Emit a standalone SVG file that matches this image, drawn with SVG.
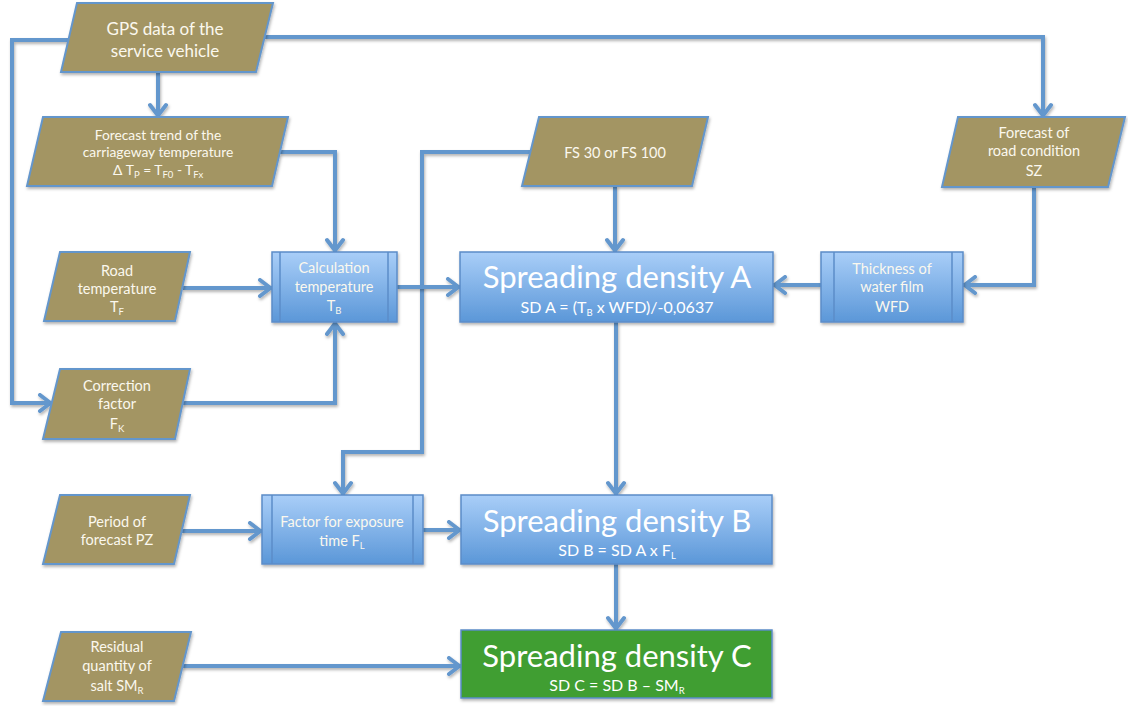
<svg xmlns="http://www.w3.org/2000/svg" width="1128" height="706" viewBox="0 0 1128 706">
<defs>
<linearGradient id="bg" x1="0" y1="0" x2="0" y2="1">
<stop offset="0" stop-color="#a9cef8"/>
<stop offset="1" stop-color="#5b97d8"/>
</linearGradient>
<filter id="sh" filterUnits="userSpaceOnUse" x="-20" y="-20" width="1170" height="750">
<feDropShadow dx="1" dy="2" stdDeviation="1.5" flood-color="#000" flood-opacity="0.3"/>
</filter>
<marker id="ah" markerWidth="20" markerHeight="20" viewBox="-16 -10 20 20" refX="0" refY="0" orient="auto" markerUnits="userSpaceOnUse">
<path d="M-12,-8 L-1.5,0 L-12,8" fill="none" stroke="#6497cd" stroke-width="4" stroke-linecap="round" stroke-linejoin="round"/>
</marker>
</defs>
<style>
.io{fill:#a39563;stroke:#6496cc;stroke-width:2;filter:url(#sh)}
.pr{fill:url(#bg);stroke:#5b8cc8;stroke-width:1.5;filter:url(#sh)}
.in{stroke:#5b8cc8;stroke-width:1.5;fill:none}
.gr{fill:#3f9e30;stroke:#5b8cc8;stroke-width:1.5;filter:url(#sh)}
.c{fill:none;stroke:#6497cd;stroke-width:4;filter:url(#sh)}
.a{marker-end:url(#ah)}
text{font-family:Lato,"Liberation Sans",sans-serif;fill:#fbf8ee;text-anchor:middle}
.t14{font-size:14.5px}
.t13{font-size:13.8px}
.t17{font-size:17px}
.big{font-size:31px;fill:#fff}
.sm{font-size:16px;fill:#fff}
.sub{font-size:9.5px}
</style>
<g id="connectors">
<path class="c a" d="M68,40 H12 V403 H52"/>
<path class="c a" d="M265,37 H1043 V117"/>
<path class="c a" d="M158,72 V117"/>
<path class="c a" d="M280,152 H335 V252"/>
<path class="c a" d="M183,288 H272"/>
<path class="c a" d="M182,403 H335 V322"/>
<path class="c a" d="M530,152 H422 V452 H343 V495"/>
<path class="c a" d="M615,186 V252"/>
<path class="c a" d="M397,287 H460"/>
<path class="c a" d="M1034,187 V285 H963"/>
<path class="c a" d="M821,285 H773"/>
<path class="c a" d="M616,322 V495"/>
<path class="c a" d="M182,531 H262"/>
<path class="c a" d="M423,530 H461"/>
<path class="c a" d="M616,564 V630"/>
<path class="c a" d="M182,666 H461"/>
</g>
<g id="gps">
<polygon class="io" points="77,3 273,3 256,72 61,72"/>
<text class="t17" x="165" y="35">GPS data of the</text>
<text class="t17" x="165" y="57">service vehicle</text>
</g>
<g id="forecast-trend">
<polygon class="io" points="43,117 288,117 272,186 27,186"/>
<text class="t13" x="158" y="140">Forecast trend of the</text>
<text class="t13" x="158" y="157">carriageway temperature</text>
<text class="t13" x="158" y="175">Δ T<tspan class="sub" dy="3">P</tspan><tspan dy="-3"> = T</tspan><tspan class="sub" dy="3">F0</tspan><tspan dy="-3"> - T</tspan><tspan class="sub" dy="3">Fx</tspan></text>
</g>
<g id="fs">
<polygon class="io" points="539,117 708,117 692,186 522,186"/>
<text class="t14" x="615" y="158">FS 30 or FS 100</text>
</g>
<g id="forecast-road">
<polygon class="io" points="958,117 1125,117 1108,187 942,187"/>
<text class="t14" x="1034" y="138">Forecast of</text>
<text class="t14" x="1034" y="156">road condition</text>
<text class="t14" x="1034" y="176">SZ</text>
</g>
<g id="road-temp">
<polygon class="io" points="60,252 190,252 175,321 44,321"/>
<text class="t14" x="117" y="276">Road</text>
<text class="t14" x="117" y="294">temperature</text>
<text class="t14" x="117" y="312">T<tspan class="sub" dy="3">F</tspan></text>
</g>
<g id="correction">
<polygon class="io" points="60,369 190,369 175,439 43,439"/>
<text class="t14" x="117" y="391">Correction</text>
<text class="t14" x="117" y="409">factor</text>
<text class="t14" x="117" y="429">F<tspan class="sub" dy="3">K</tspan></text>
</g>
<g id="period">
<polygon class="io" points="60,495 190,495 174,564 43,564"/>
<text class="t14" x="117" y="527">Period of</text>
<text class="t14" x="117" y="545">forecast PZ</text>
</g>
<g id="residual">
<polygon class="io" points="61,632 191,632 174,701 43,701"/>
<text class="t14" x="117" y="652">Residual</text>
<text class="t14" x="117" y="671">quantity of</text>
<text class="t14" x="117" y="691">salt SM<tspan class="sub" dy="3">R</tspan></text>
</g>
<g id="calc-temp">
<rect class="pr" x="272" y="252" width="125" height="70"/>
<line class="in" x1="280" y1="252" x2="280" y2="322"/>
<line class="in" x1="388" y1="252" x2="388" y2="322"/>
<text class="t14" x="334" y="273">Calculation</text>
<text class="t14" x="334" y="292">temperature</text>
<text class="t14" x="334" y="311">T<tspan class="sub" dy="3">B</tspan></text>
</g>
<g id="thickness">
<rect class="pr" x="821" y="252" width="142" height="70"/>
<line class="in" x1="834" y1="252" x2="834" y2="322"/>
<line class="in" x1="952" y1="252" x2="952" y2="322"/>
<text class="t14" x="892" y="274">Thickness of</text>
<text class="t14" x="892" y="292">water film</text>
<text class="t14" x="892" y="312">WFD</text>
</g>
<g id="factor">
<rect class="pr" x="262" y="495" width="161" height="69"/>
<line class="in" x1="272" y1="495" x2="272" y2="564"/>
<line class="in" x1="413" y1="495" x2="413" y2="564"/>
<text class="t14" x="342" y="527">Factor for exposure</text>
<text class="t14" x="342" y="546">time F<tspan class="sub" dy="3">L</tspan></text>
</g>
<g id="sd-a">
<rect class="pr" x="460" y="252" width="313" height="70"/>
<text class="big" x="617" y="288">Spreading density A</text>
<text class="sm" x="617" y="313">SD A = (T<tspan class="sub" dy="3">B</tspan><tspan dy="-3"> x WFD)/-0,0637</tspan></text>
</g>
<g id="sd-b">
<rect class="pr" x="461" y="495" width="311" height="69"/>
<text class="big" x="617" y="532">Spreading density B</text>
<text class="sm" x="617" y="556">SD B = SD A x F<tspan class="sub" dy="3">L</tspan></text>
</g>
<g id="sd-c">
<rect class="gr" x="461" y="630" width="311" height="68"/>
<text class="big" x="617" y="667">Spreading density C</text>
<text class="sm" x="617" y="691">SD C = SD B – SM<tspan class="sub" dy="3">R</tspan></text>
</g>
</svg>
